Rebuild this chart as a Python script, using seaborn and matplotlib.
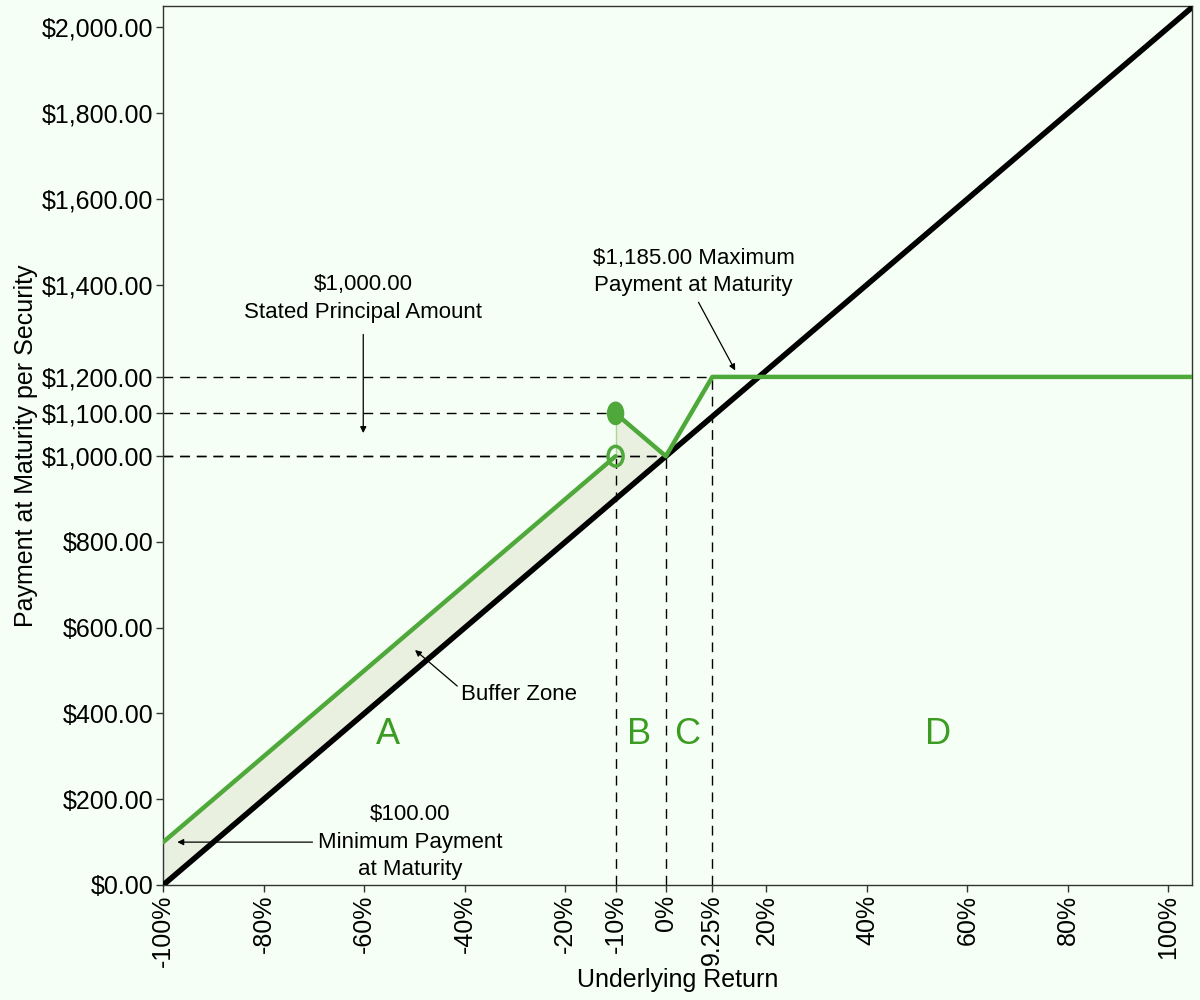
import matplotlib
matplotlib.use("Agg")
import matplotlib.pyplot as plt
from matplotlib.patches import Ellipse
import pandas as pd
import seaborn as sns

# payoff data (underlying return in %, payment in $)
stock_x = [-100, 105]
stock_y = [0, 2050]
buffer_x = [-100, -10]
buffer_y = [100, 1000]
upside_x = [-10, 0, 9.25, 105]
upside_y = [1100, 1000, 1185, 1185]
fill_x = [-100, -10, -10, 0]
fill_top = [100, 1000, 1100, 1000]
fill_bottom = [0, 900, 900, 1000]

xtick_vals = [-100, -80, -60, -40, -20, -10, 0, 9.25, 20, 40, 60, 80, 100]
xtick_labels = ["-100%", "-80%", "-60%", "-40%", "-20%", "-10%", "0%", "9.25%",
                "20%", "40%", "60%", "80%", "100%"]
ytick_vals = [0, 200, 400, 600, 800, 1000, 1100, 1185, 1400, 1600, 1800, 2000]
ytick_labels = ["$0.00", "$200.00", "$400.00", "$600.00", "$800.00", "$1,000.00",
                "$1,100.00", "$1,200.00", "$1,400.00", "$1,600.00", "$1,800.00",
                "$2,000.00"]

# reference levels: (return, payment)
levels = [(-10, 1100), (0, 1000), (9.25, 1185)]
zone_letters = ["A", "B", "C", "D"]
zone_x = [-55.2, -5.3, 4.3, 54.2]

BG = "#F5FFF5"
GREEN = "#4EA83A"
LETTER_GREEN = "#3C9C22"

sns.set_style("white", {"axes.facecolor": BG, "figure.facecolor": BG,
                        "axes.edgecolor": "#333333", "text.color": "black",
                        "axes.labelcolor": "black", "xtick.color": "black",
                        "ytick.color": "black"})
plt.rcParams["font.family"] = ["Liberation Sans", "DejaVu Sans"]

fig = plt.figure(figsize=(12, 10), dpi=100)
ax = fig.add_axes([0.136, 0.115, 0.857, 0.879])

ax.fill_between(fill_x, fill_bottom, fill_top, color="#EAF0E0", lw=0, zorder=1)

# dashed guide lines
dash = (0, (7, 5))
for x, y in levels:
    ax.plot([-100, x], [y, y], color="black", lw=1, ls=dash, zorder=2)
    ax.plot([x, x], [0, min(y, 1000)], color="black", lw=1, ls=dash, zorder=2)
ax.plot([-100, 0], [1000, 1000], color="black", lw=1, ls=dash, zorder=2)
ax.plot([9.25, 9.25], [1000, 1185], color="black", lw=1, ls=dash, zorder=2)
ax.plot([-10, -10], [1000, 1100], color="#A8D898", lw=1, zorder=2)

df_stock = pd.DataFrame({"ret": stock_x, "pay": stock_y})
df_buf = pd.DataFrame({"ret": buffer_x, "pay": buffer_y})
df_up = pd.DataFrame({"ret": upside_x, "pay": upside_y})
sns.lineplot(data=df_stock, x="ret", y="pay", color="black", lw=4, ax=ax, zorder=3)
sns.lineplot(data=df_buf, x="ret", y="pay", color=GREEN, lw=3.2, ax=ax, zorder=4)
sns.lineplot(data=df_up, x="ret", y="pay", color=GREEN, lw=3.2, ax=ax, zorder=4,
             sort=False)

ax.add_patch(Ellipse((-10, 1100), 3.2, 52, color=GREEN, zorder=5))
ax.add_patch(Ellipse((-10, 1000), 3.0, 46, fill=False, ec=GREEN, lw=2.5, zorder=5))

ax.set_xlim(-100, 104.6)
ax.set_ylim(0, 2050)
ax.set_xticks(xtick_vals)
ax.set_xticklabels(xtick_labels, rotation=90, fontsize=18)
ax.set_yticks(ytick_vals)
ax.set_yticklabels(ytick_labels, fontsize=18)
ax.tick_params(axis="both", direction="out", length=5, width=1, color="#333333",
               pad=2, left=True, bottom=True)
ax.set_xlabel("Underlying Return", fontsize=18, labelpad=1)
ax.set_ylabel("Payment at Maturity per Security", fontsize=18, labelpad=3)
for s in ax.spines.values():
    s.set_linewidth(1)

arrow = dict(arrowstyle="-|>", color="black", lw=0.9, mutation_scale=9,
             shrinkA=0, shrinkB=0)
ax.annotate("", xy=(-60.2, 1054), xytext=(-60.2, 1284), arrowprops=arrow)
ax.text(-60.2, 1368, "$1,000.00\nStated Principal Amount", ha="center",
        va="center", fontsize=16, linespacing=1.4)
ax.annotate("", xy=(13.8, 1200), xytext=(6.5, 1359), arrowprops=arrow)
ax.text(5.5, 1429, "$1,185.00 Maximum\nPayment at Maturity", ha="center",
        va="center", fontsize=16, linespacing=1.4)
ax.annotate("", xy=(-49.9, 548), xytext=(-41.5, 464), arrowprops=arrow)
ax.text(-40.7, 445, "Buffer Zone", ha="left", va="center", fontsize=16)
ax.annotate("", xy=(-97.2, 100), xytext=(-70.3, 100), arrowprops=arrow)
ax.text(-50.8, 100, "$100.00\nMinimum Payment\nat Maturity", ha="center",
        va="center", fontsize=16, linespacing=1.4)

for letter, x in zip(zone_letters, zone_x):
    ax.text(x, 350, letter, ha="center", va="center", fontsize=26,
            color=LETTER_GREEN)

fig.savefig("out.png", dpi=100, facecolor=BG)
